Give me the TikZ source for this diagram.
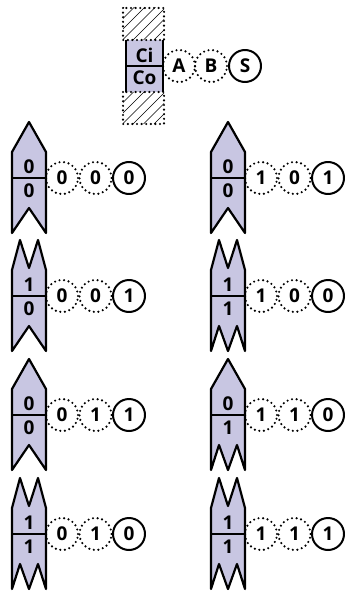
\documentclass[tikz,border=0pt]{standalone}
\usepackage{fontspec}
\setmainfont{Open Sans}
\definecolor{lavend}{RGB}{200,198,226}

\begin{document}
\begin{tikzpicture}[
      x=1pt, y=-1pt,
      line join=round,
      lbl/.style={font=\fontsize{19}{21}\selectfont\bfseries, inner sep=0pt},
      bit/.style={circle, minimum size=32pt, inner sep=0pt, line width=2pt, lbl},
      dotbit/.style={bit, draw, dash pattern=on 0pt off 4.6pt, line cap=round, line width=2.4pt},
      sumbit/.style={bit, draw},
      cell/.style={fill=lavend, draw, line width=2.2pt},
      dotframe/.style={draw, line width=2.4pt, dash pattern=on 0pt off 4.6pt, line cap=round}
    ]
    \useasboundingbox (0,0) rectangle (347,594);

    % Legende: Ci / Co mit A, B, S
    \fill[lavend] (126,40) rectangle (163,92);
    \foreach \y in {8,92} {
      \begin{scope}
        \clip (123,\y) rectangle (164,\y+32);
        \foreach \k in {0,...,7}
          \draw[line width=0.7pt] (123+10.5*\k-32,\y+32) -- ++(40,-40);
      \end{scope}
      \draw[dotframe] (123,\y) rectangle (164,\y+32);
    }
    \draw[line width=2.2pt] (126,40) -- (126,92) (163,40) -- (163,92) (126,66) -- (163,66);
    \node[lbl] (ci) at (144.5,55) {Ci};
    \node[lbl] (co) at (144.5,78) {Co};
    \node[dotbit] (a) at (179,66) {A};
    \node[dotbit] (b) at (211,66) {B};
    \node[sumbit] (s) at (245,66) {S};

    % Volladdierer: links / rechts, oben: Ci, unten: Co
    \foreach \L/\T/\ci/\co/\a/\b/\s [count=\n] in {
        12/152/0/0/0/0/0, 12/270/1/0/0/0/1, 12/389/0/0/0/1/1, 12/508/1/1/0/1/0,
        211/152/0/0/1/0/1, 211/270/1/1/1/0/0, 211/389/0/1/1/1/0, 211/508/1/1/1/1/1} {
      \ifnum\ci=0
        \def\toppart{-- (\L+17,\T-30)}
      \else
        \def\toppart{-- (\L+8,\T-30) -- (\L+17,\T-2) -- (\L+26,\T-30)}
      \fi
      \ifnum\co=0
        \def\botpart{-- (\L+17,\T+56)}
      \else
        \def\botpart{-- (\L+26,\T+56) -- (\L+17,\T+81) -- (\L+8,\T+56)}
      \fi
      \draw[cell] (\L,\T) \toppart -- (\L+34,\T) -- (\L+34,\T+81) \botpart -- (\L,\T+81) -- cycle;
      \draw[line width=2.2pt] (\L,\T+26) -- (\L+34,\T+26);
      \node[lbl] (cin\n) at (\L+17,\T+15) {\ci};
      \node[lbl] (cout\n) at (\L+17,\T+39) {\co};
      \node[dotbit] (a\n) at (\L+50,\T+26) {\a};
      \node[dotbit] (b\n) at (\L+83.5,\T+26) {\b};
      \node[sumbit] (s\n) at (\L+117,\T+26) {\s};
    }
  \end{tikzpicture}
\end{document}
